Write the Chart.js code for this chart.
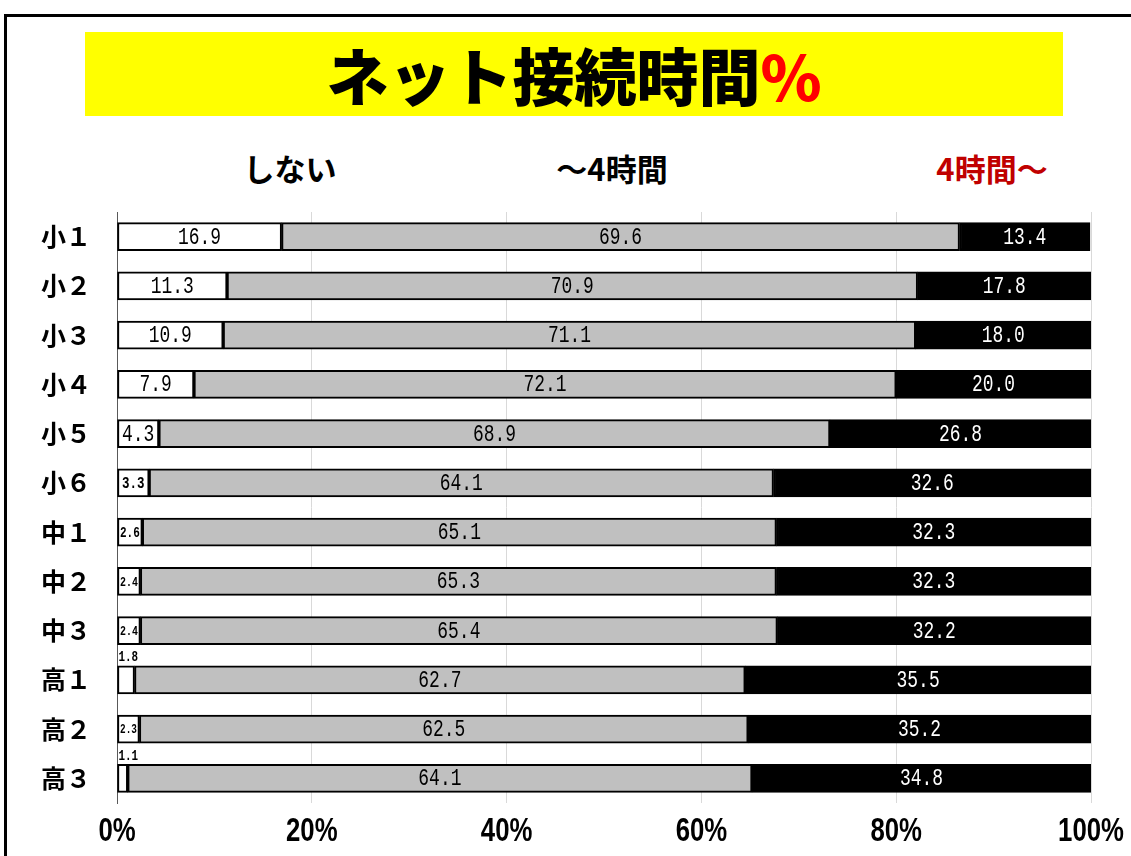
<!DOCTYPE html>
<html lang="ja">
<head>
<meta charset="utf-8">
<script src="https://cdn.jsdelivr.net/npm/chart.js@4.4.1/dist/chart.umd.min.js"></script>
<style>
  body { margin: 0; background: #fff; }
  #wrap { position: relative; width: 1131px; height: 856px; overflow: hidden; }
  #frame { position: absolute; left: 4px; top: 14px; width: 1200px; height: 900px;
           border-left: 3px solid #000; border-top: 3px solid #000; }
  #title { position: absolute; left: 85px; top: 32px; width: 978px; height: 84px;
           background: #ffff00; text-align: center; line-height: 84px;
           font-family: "Noto Sans CJK JP", sans-serif; font-weight: 900; font-size: 62px; color: #000; }
  #title span { color: #ff0000; }
  .leg { position: absolute; top: 146px; font-family: "Noto Sans CJK JP", sans-serif;
         font-weight: 700; font-size: 31px; line-height: 44px; transform: translateX(-50%); white-space: nowrap; }
  canvas { position: absolute; left: 0; top: 0; }
</style>
</head>
<body>
<div id="wrap">
  <div id="frame"></div>
  <div id="title">ネット接続時間<span>%</span></div>
  <div class="leg" style="left:290px;color:#000">しない</div>
  <div class="leg" style="left:612px;color:#000">～4時間</div>
  <div class="leg" style="left:992px;color:#c00000">4時間～</div>
  <canvas id="chart" width="1131" height="856"></canvas>
</div>
<script>
// grades
const grades = ['小１', '小２', '小３', '小４', '小５', '小６', '中１', '中２', '中３', '高１', '高２', '高３'];

// percent per answer
const none = [16.9, 11.3, 10.9, 7.9, 4.3, 3.3, 2.6, 2.4, 2.4, 1.8, 2.3, 1.1];
const under4h = [69.6, 70.9, 71.1, 72.1, 68.9, 64.1, 65.1, 65.3, 65.4, 62.7, 62.5, 64.1];
const over4h = [13.4, 17.8, 18.0, 20.0, 26.8, 32.6, 32.3, 32.3, 32.2, 35.5, 35.2, 34.8];

const xTickLabels = ['0%', '20%', '40%', '60%', '80%', '100%'];

// condensed text, like the narrow gothic of the original
function narrowText(ctx, txt, x, y, sx) {
  ctx.save();
  ctx.translate(x, y);
  ctx.scale(sx, 1);
  ctx.fillText(txt, 0, 0);
  ctx.restore();
}

// numbers on the bars, shrunk or put above the bar when the segment is narrow
const barLabels = {
  id: 'barLabels',
  afterDatasetsDraw(chart) {
    const ctx = chart.ctx;
    ctx.save();
    ctx.textBaseline = 'middle';
    chart.data.datasets.forEach((ds, i) => {
      const meta = chart.getDatasetMeta(i);
      meta.data.forEach((el, j) => {
        const { x, base, y, height } = el.getProps(['x', 'base', 'y', 'height'], true);
        const txt = ds.data[j].toFixed(1);
        const w = Math.abs(x - base);
        const cx = (x + base) / 2;
        const size = Math.min(23, (w - 5) / (txt.length * 0.6 * 0.78));
        ctx.fillStyle = ds.labelColor;
        ctx.textAlign = 'center';
        if (size >= 22) {
          ctx.font = '23px "Liberation Mono", monospace';
          narrowText(ctx, txt, cx, y + 1, 0.78);
        } else if (size >= 10.5) {
          ctx.font = 'bold ' + Math.min(size, 16).toFixed(1) + 'px "Liberation Mono", monospace';
          narrowText(ctx, txt, cx, y + 1, 0.78);
        } else {
          ctx.font = 'bold 14px "Liberation Mono", monospace';
          ctx.textAlign = 'left';
          narrowText(ctx, txt, Math.min(x, base) + 1, y - height / 2 - 8, 0.78);
        }
      });
    });
    ctx.restore();
  }
};

// x tick labels drawn narrow at the scale's own tick positions
const narrowTicks = {
  id: 'narrowTicks',
  afterDraw(chart) {
    const ctx = chart.ctx;
    const sc = chart.scales.x;
    ctx.save();
    ctx.fillStyle = '#000';
    ctx.font = 'bold 33px "Liberation Sans", sans-serif';
    ctx.textAlign = 'center';
    ctx.textBaseline = 'middle';
    sc.ticks.forEach((t, i) => {
      narrowText(ctx, xTickLabels[i], sc.getPixelForValue(t.value), 832, 0.78);
    });
    ctx.restore();
  }
};

new Chart(document.getElementById('chart'), {
  type: 'bar',
  data: {
    labels: grades,
    datasets: [
      { label: 'しない', data: none, backgroundColor: '#ffffff', labelColor: '#000' },
      { label: '～4時間', data: under4h, backgroundColor: '#c0c0c0', labelColor: '#000' },
      { label: '4時間～', data: over4h, backgroundColor: '#000000', labelColor: '#fff' }
    ].map(d => Object.assign(d, {
      borderColor: '#000', borderWidth: 2, borderSkipped: false,
      barThickness: 28
    }))
  },
  options: {
    indexAxis: 'y',
    responsive: false,
    animation: false,
    devicePixelRatio: 1,
    layout: { padding: { top: 212, right: 40, left: 0, bottom: 0 } },
    plugins: {
      legend: { display: false },
      tooltip: { enabled: false }
    },
    scales: {
      x: {
        stacked: true,
        min: 0,
        max: 100,
        ticks: {
          stepSize: 20,
          padding: 10,
          color: 'rgba(0,0,0,0)',
          font: { family: '"Liberation Sans", sans-serif', size: 8 },
          callback: (v, i) => xTickLabels[i]
        },
        grid: { color: '#d9d9d9', lineWidth: 1, drawTicks: false },
        border: { display: false },
        afterFit: s => { s.height = 53; }
      },
      y: {
        stacked: true,
        ticks: {
          padding: 26,
          color: '#000',
          font: { family: '"Noto Sans CJK JP", sans-serif', weight: 'bold', size: 25 }
        },
        grid: { display: false, drawTicks: false },
        border: { display: true, color: '#595959', width: 1 },
        afterFit: s => { s.width = 117; }
      }
    }
  },
  plugins: [barLabels, narrowTicks]
});
</script>
</body>
</html>
